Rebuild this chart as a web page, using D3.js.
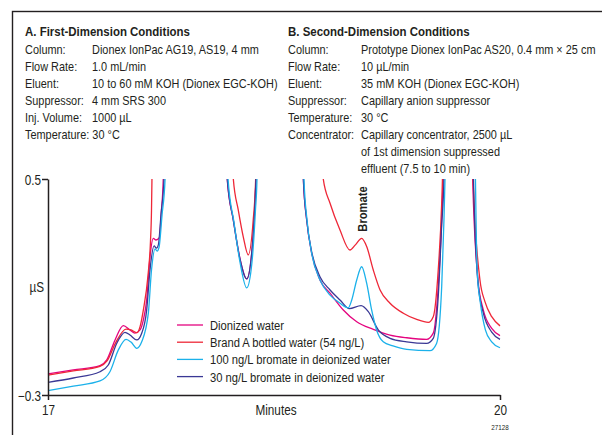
<!DOCTYPE html>
<html><head><meta charset="utf-8">
<script src="https://cdn.jsdelivr.net/npm/d3@7"></script>
<style>
body{margin:0;background:#fff}
svg{display:block}
text{font-family:"Liberation Sans",Arial,sans-serif;fill:#231f20}
</style></head>
<body><svg id="c" width="602" height="435"></svg>
<script>
// ---- data ----
const xDomain = [17, 20];
const yDomain = [-0.3, 0.5];
const xTicks = [17, 20];
const yTicks = [0.5, -0.3];
const xLabel = "Minutes";
const yLabel = "µS";

const seriesNames = ["Dionized water", "Brand A bottled water (54 ng/L)", "100 ng/L bromate in deionized water", "30 ng/L bromate in deionized water"];
const seriesColors = ["#e4047f", "#ee2737", "#1bb1ea", "#3a3895"];

const dionized = [[17.000,-0.222],[17.168,-0.207],[17.345,-0.191],[17.390,-0.170],[17.445,-0.096],[17.500,-0.043],[17.544,-0.059],[17.577,-0.071],[17.611,-0.059],[17.633,-0.022],[17.655,0.052],[17.677,0.212],[17.699,0.280],[17.717,0.274],[17.739,0.283],[17.753,0.385],[17.765,0.500],[17.78,1.0],[17.98,3.0],[18.175,1.0],[18.190,0.496],[18.230,0.348],[18.274,0.206],[18.319,0.130],[18.352,0.225],[18.374,0.410],[18.380,0.500],[18.395,1.0],[18.54,3.0],[18.683,1.0],[18.695,0.496],[18.717,0.348],[18.750,0.225],[18.805,0.126],[18.872,0.077],[18.960,0.015],[19.049,-0.029],[19.159,-0.057],[19.270,-0.078],[19.381,-0.088],[19.513,-0.094],[19.557,-0.071],[19.590,0.101],[19.613,0.348],[19.622,0.500],[19.635,1.0],[19.72,3.0],[19.808,1.0],[19.819,0.496],[19.854,0.126],[19.889,0.015],[19.945,-0.053],[20.000,-0.080]];

const brandA = [[17.000,-0.226],[17.168,-0.211],[17.345,-0.194],[17.392,-0.174],[17.451,-0.104],[17.518,-0.056],[17.551,-0.059],[17.591,-0.069],[17.611,-0.047],[17.633,0.015],[17.664,0.144],[17.680,0.267],[17.687,0.385],[17.690,0.500],[17.70,1.0],[17.96,3.0],[18.215,1.0],[18.230,0.500],[18.263,0.385],[18.296,0.286],[18.329,0.219],[18.362,0.348],[18.378,0.496],[18.39,1.0],[18.6,3.0],[18.815,1.0],[18.827,0.500],[18.872,0.410],[18.938,0.311],[19.004,0.237],[19.040,0.256],[19.082,0.280],[19.115,0.250],[19.159,0.163],[19.204,0.089],[19.270,0.040],[19.358,0.003],[19.447,-0.020],[19.524,-0.031],[19.557,-0.010],[19.590,0.163],[19.613,0.410],[19.618,0.500],[19.63,1.0],[19.72,3.0],[19.81,1.0],[19.821,0.500],[19.867,0.126],[19.900,0.046],[19.945,-0.010],[20.000,-0.044]];

const bromate100 = [[17.000,-0.284],[17.168,-0.267],[17.345,-0.248],[17.411,-0.214],[17.467,-0.133],[17.518,-0.094],[17.551,-0.104],[17.589,-0.127],[17.622,-0.103],[17.666,0.003],[17.687,0.163],[17.711,0.241],[17.724,0.233],[17.737,0.247],[17.757,0.367],[17.777,0.500],[17.79,1.0],[17.99,3.0],[18.18,1.0],[18.195,0.500],[18.234,0.341],[18.274,0.193],[18.319,0.097],[18.354,0.193],[18.377,0.385],[18.387,0.500],[18.40,1.0],[18.55,3.0],[18.687,1.0],[18.699,0.500],[18.719,0.348],[18.752,0.219],[18.805,0.126],[18.872,0.070],[18.938,0.040],[18.993,0.023],[19.016,0.052],[19.049,0.126],[19.082,0.175],[19.115,0.114],[19.148,0.015],[19.181,-0.059],[19.225,-0.103],[19.290,-0.118],[19.381,-0.131],[19.535,-0.136],[19.579,-0.109],[19.613,0.101],[19.628,0.348],[19.635,0.500],[19.65,1.0],[19.74,3.0],[19.825,1.0],[19.837,0.500],[19.848,0.163],[19.870,0.040],[19.903,-0.059],[19.945,-0.103],[20.000,-0.125]];

const bromate30 = [[17.000,-0.253],[17.168,-0.237],[17.345,-0.214],[17.400,-0.189],[17.456,-0.109],[17.511,-0.068],[17.544,-0.078],[17.589,-0.096],[17.622,-0.071],[17.655,0.015],[17.677,0.163],[17.704,0.252],[17.720,0.244],[17.733,0.257],[17.750,0.367],[17.770,0.500],[17.785,1.0],[17.98,3.0],[18.175,1.0],[18.190,0.500],[18.230,0.348],[18.274,0.204],[18.319,0.130],[18.352,0.225],[18.374,0.410],[18.380,0.500],[18.395,1.0],[18.54,3.0],[18.683,1.0],[18.695,0.500],[18.717,0.348],[18.750,0.230],[18.805,0.138],[18.872,0.089],[18.938,0.052],[19.000,0.020],[19.078,0.031],[19.126,0.009],[19.192,-0.059],[19.270,-0.090],[19.381,-0.103],[19.513,-0.109],[19.557,-0.090],[19.590,0.064],[19.613,0.330],[19.628,0.500],[19.64,1.0],[19.73,3.0],[19.812,1.0],[19.824,0.500],[19.854,0.115],[19.889,0.004],[19.945,-0.067],[20.000,-0.094]];

const peakLabel = "Bromate";
const peakLabelAt = [19.082, 0.5];

const condATitle = "A. First-Dimension Conditions";
const condALabels = ["Column:", "Flow Rate:", "Eluent:", "Suppressor:", "Inj. Volume:", "Temperature: 30 °C"];
const condAValues = ["Dionex IonPac AG19, AS19, 4 mm", "1.0 mL/min", "10 to 60 mM KOH (Dionex EGC-KOH)", "4 mm SRS 300", "1000 µL", ""];
const condBTitle = "B. Second-Dimension Conditions";
const condBLabels = ["Column:", "Flow Rate:", "Eluent:", "Suppressor:", "Temperature:", "Concentrator:", "", ""];
const condBValues = ["Prototype Dionex IonPac AS20, 0.4 mm × 25 cm", "10 µL/min", "35 mM KOH (Dionex EGC-KOH)", "Capillary anion suppressor", "30 °C", "Capillary concentrator, 2500 µL", "of 1st dimension suppressed", "effluent (7.5 to 10 min)"];
const figureId = "27128";

// ---- drawing ----
const svg = d3.select("#c");
const SX = 0.84; // condensed look
const x = d3.scaleLinear().domain(xDomain).range([48, 500]);
const y = d3.scaleLinear().domain(yDomain).range([395, 179]);

function txt(g, px, py, str, size, opts = {}) {
  const t = g.append("text")
    .attr("transform", `translate(${px},${py}) scale(${opts.sx || SX},1)` + (opts.rot ? ` rotate(${opts.rot})` : ""))
    .attr("font-size", size).text(str);
  if (opts.anchor) t.attr("text-anchor", opts.anchor);
  if (opts.bold) t.attr("font-weight", "bold");
  return t;
}

// frame
svg.append("rect").attr("x", 12.5).attr("y", 11.5).attr("width", 620).attr("height", 440)
  .attr("fill", "none").attr("stroke", "#231f20").attr("stroke-width", 1.4);

// condition blocks
function block(x0, x1, title, labels, values) {
  const g = svg.append("g");
  txt(g, x0, 36, title, 13.5, {bold: true, sx: 0.85});
  labels.forEach((l, i) => {
    const yy = 54 + 17 * i;
    if (l) txt(g, x0, yy, l, 13);
    if (values[i]) txt(g, x1, yy, values[i], 13);
  });
}
block(25, 92, condATitle, condALabels, condAValues);
block(288, 361, condBTitle, condBLabels, condBValues);

// clip
svg.append("clipPath").attr("id", "plotclip").append("rect")
  .attr("x", 40).attr("y", y(0.5)).attr("width", 470).attr("height", y(-0.3) - y(0.5) + 20);

const line = d3.line().x(d => x(d[0])).y(d => y(d[1])).curve(d3.curveMonotoneX);
const allSeries = [dionized, brandA, bromate30, bromate100];
const allColors = [seriesColors[0], seriesColors[1], seriesColors[3], seriesColors[2]];
const gl = svg.append("g").attr("clip-path", "url(#plotclip)");
allSeries.forEach((s, i) => {
  gl.append("path").datum(s).attr("d", line).attr("fill", "none")
    .attr("stroke", allColors[i]).attr("stroke-width", 1.3).attr("stroke-linejoin", "round");
});

// axes
const yAxis = d3.axisLeft(y).tickValues(yTicks).tickSize(6).tickSizeOuter(0)
  .tickFormat(d => d3.format(".1f")(d));
const gy = svg.append("g").attr("transform", "translate(48,0)").call(yAxis);
const xAxis = d3.axisBottom(x).tickValues(xTicks).tickSize(5).tickSizeOuter(0).tickFormat(d3.format("d"));
const gx = svg.append("g").attr("transform", "translate(0,395)").call(xAxis);
[gx, gy].forEach(g => {
  g.select(".domain").attr("stroke", "#231f20").attr("stroke-width", 1.5);
  g.selectAll(".tick line").attr("stroke", "#231f20").attr("stroke-width", 1.5);
  g.selectAll(".tick text").attr("fill", "#231f20").attr("font-size", 14)
    .attr("font-family", '"Liberation Sans",Arial,sans-serif');
});
gy.selectAll(".tick text").attr("x", null).attr("dy", null)
  .attr("transform", `translate(-7,5) scale(${SX},1)`);
gx.selectAll(".tick text").attr("y", null).attr("dy", null)
  .attr("transform", `translate(0,20) scale(${SX},1)`);

txt(svg, 44, y(0.1) + 5, yLabel, 14, {anchor: "end"});
txt(svg, 276, 415, xLabel, 14, {anchor: "middle"});
txt(svg, 500, 430, figureId, 7.5, {anchor: "middle"});

// peak label
svg.append("text")
  .attr("transform", `translate(${x(peakLabelAt[0]) + 5},${y(peakLabelAt[1]) + 30}) rotate(-90) scale(0.86,1)`)
  .attr("text-anchor", "middle").attr("font-size", 13).attr("font-weight", "bold").text(peakLabel);

// legend
const lg = svg.append("g");
seriesNames.forEach((n, i) => {
  const yy = 325 + 17.2 * i;
  lg.append("line").attr("x1", 177).attr("x2", 203).attr("y1", yy).attr("y2", yy)
    .attr("stroke", seriesColors[i]).attr("stroke-width", 1.3);
  txt(lg, 210, yy + 5, n, 13.5, {sx: 0.83});
});
</script></body></html>
